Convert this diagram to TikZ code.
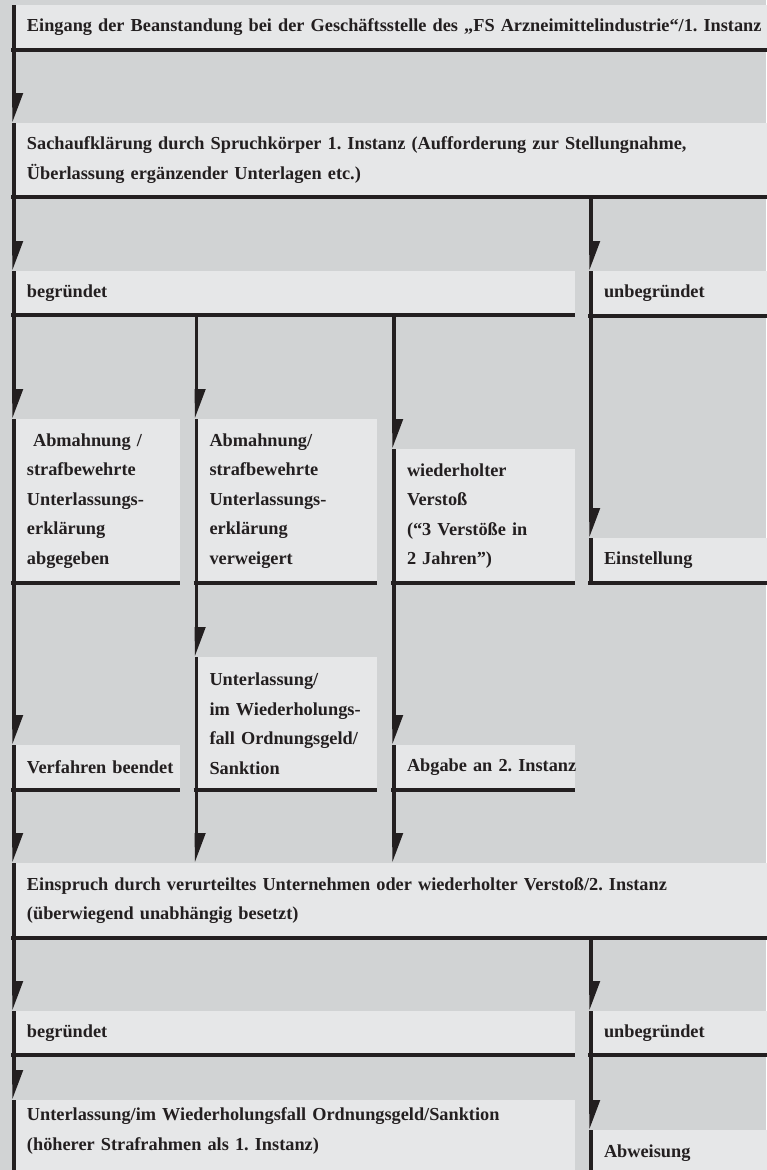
\documentclass[tikz,border=0pt]{standalone}
\usepackage{fontspec}
\setmainfont{Liberation Serif}
\usetikzlibrary{calc}
\definecolor{bgc}{RGB}{209,211,212}
\definecolor{boxc}{RGB}{230,231,232}
\definecolor{ink}{RGB}{35,31,32}
\newcommand\boxfont{\fontsize{18.3}{29.5}\selectfont\bfseries\frenchspacing\hyphenpenalty=10000 \exhyphenpenalty=10000 }
\tikzset{
  box/.style={fill=boxc, anchor=north west, inner xsep=15pt, inner ysep=0pt,
    outer sep=0pt, align=left, font=\boxfont, text=ink},
  wire/.style={draw=ink, line width=3.6pt, line cap=butt},
}
% left and bottom border of a box
\newcommand\edgeframe[1]{%
  \draw[wire] ($(#1.north west)+(1.8,0)$) -- ($(#1.south west)+(1.8,0)$);
  \draw[wire] ($(#1.south west)+(-1,0)$) -- (#1.south east);
}
% connector: source, target, node whose left line gives the x position
\newcommand\flowlink[3]{%
  \coordinate (lx) at ($(#3.north west)+(1.8,0)$);
  \coordinate (lt) at (lx |- #2.north);
  \draw[wire] (lx |- #1.south) -- ($(lt)+(0,-20)$);
  \fill[ink] ($(lt)+(-1.8,-30)$) -- ++(11.3,0) -- ($(lt)+(-1.3,-1.3)$) -- cycle;
}
\begin{document}
\begin{tikzpicture}[x=1pt,y=-1pt]
\useasboundingbox (0,0) rectangle (766,1170);
\fill[bgc] (0,0) rectangle (766,1170);

% boxes
\node[box, text width=760pt, minimum height=45pt] (A) at (12,5)
  {Eingang der Beanstandung bei der Geschäftsstelle des „FS Arzneimittelindustrie“/1. Instanz};
\node[box, text width=760pt, minimum height=74pt] (B) at (12,123)
  {Sachaufklärung durch Spruchkörper 1. Instanz (Aufforderung zur Stellungnahme,\\Überlassung ergänzender Unterlagen etc.)};
\node[box, text width=533pt, minimum height=44pt] (C1) at (12,271) {begründet};
\node[box, text width=200pt, minimum height=45pt] (C2) at (589,271) {unbegründet};
\node[box, text width=138pt, minimum height=164pt] (D1) at (12,419)
  {\ Abmahnung /\\strafbewehrte\\Unterlassungs-\\erklärung\\abgegeben};
\node[box, text width=152.5pt, minimum height=164pt] (D2) at (194.5,419)
  {Abmahnung/\\strafbewehrte\\Unterlassungs-\\erklärung\\verweigert};
\node[box, text width=153pt, minimum height=134pt] (D3) at (392,449)
  {wiederholter\\Verstoß\\(“3 Verstöße in\\2 Jahren”)};
\node[box, text width=200pt, minimum height=45pt] (D4) at (589,538) {Einstellung};
\node[box, text width=138pt, minimum height=45pt] (E1) at (12,745) {\mbox{Verfahren beendet}};
\node[box, text width=152.5pt, minimum height=133pt] (E2) at (194.5,657)
  {Unterlassung/\\im Wiederholungs-\\fall Ordnungsgeld/\\Sanktion};
\node[box, text width=153pt, minimum height=45pt] (E3) at (392,745) {\mbox{Abgabe an 2. Instanz}};
\node[box, text width=760pt, minimum height=75pt] (F) at (12,863)
  {Einspruch durch verurteiltes Unternehmen oder wiederholter Verstoß/2. Instanz\\(überwiegend unabhängig besetzt)};
\node[box, text width=533pt, minimum height=44pt] (G1) at (12,1011) {begründet};
\node[box, text width=200pt, minimum height=44pt] (G2) at (589,1011) {unbegründet};
\node[box, text width=533pt, minimum height=62pt] (H1) at (12,1100)
  {Unterlassung/im Wiederholungsfall Ordnungsgeld/Sanktion\\(höherer Strafrahmen als 1. Instanz)};
\fill[boxc] (H1.south west) rectangle ([yshift=-20pt]H1.south east);
\node[box, text width=200pt, minimum height=46pt] (H2) at (589,1130) {Abweisung};

% borders
\foreach \b in {A,B,C1,C2,D1,D2,D3,D4,E1,E2,E3,F,G1,G2}{\edgeframe{\b}}
\draw[wire] ($(H1.north west)+(1.8,0)$) -- ++(0,80);
\draw[wire] ($(H2.north west)+(1.8,0)$) -- ++(0,50);

% connectors
\flowlink{A}{B}{A}
\flowlink{B}{C1}{C1}
\flowlink{B}{C2}{C2}
\flowlink{C1}{D1}{D1}
\flowlink{C1}{D2}{D2}
\flowlink{C1}{D3}{D3}
\flowlink{C2}{D4}{D4}
\flowlink{D1}{E1}{E1}
\flowlink{D2}{E2}{E2}
\flowlink{D3}{E3}{E3}
\flowlink{E1}{F}{E1}
\flowlink{E2}{F}{E2}
\flowlink{E3}{F}{E3}
\flowlink{F}{G1}{G1}
\flowlink{F}{G2}{G2}
\flowlink{G1}{H1}{H1}
\flowlink{G2}{H2}{H2}
\end{tikzpicture}
\end{document}
